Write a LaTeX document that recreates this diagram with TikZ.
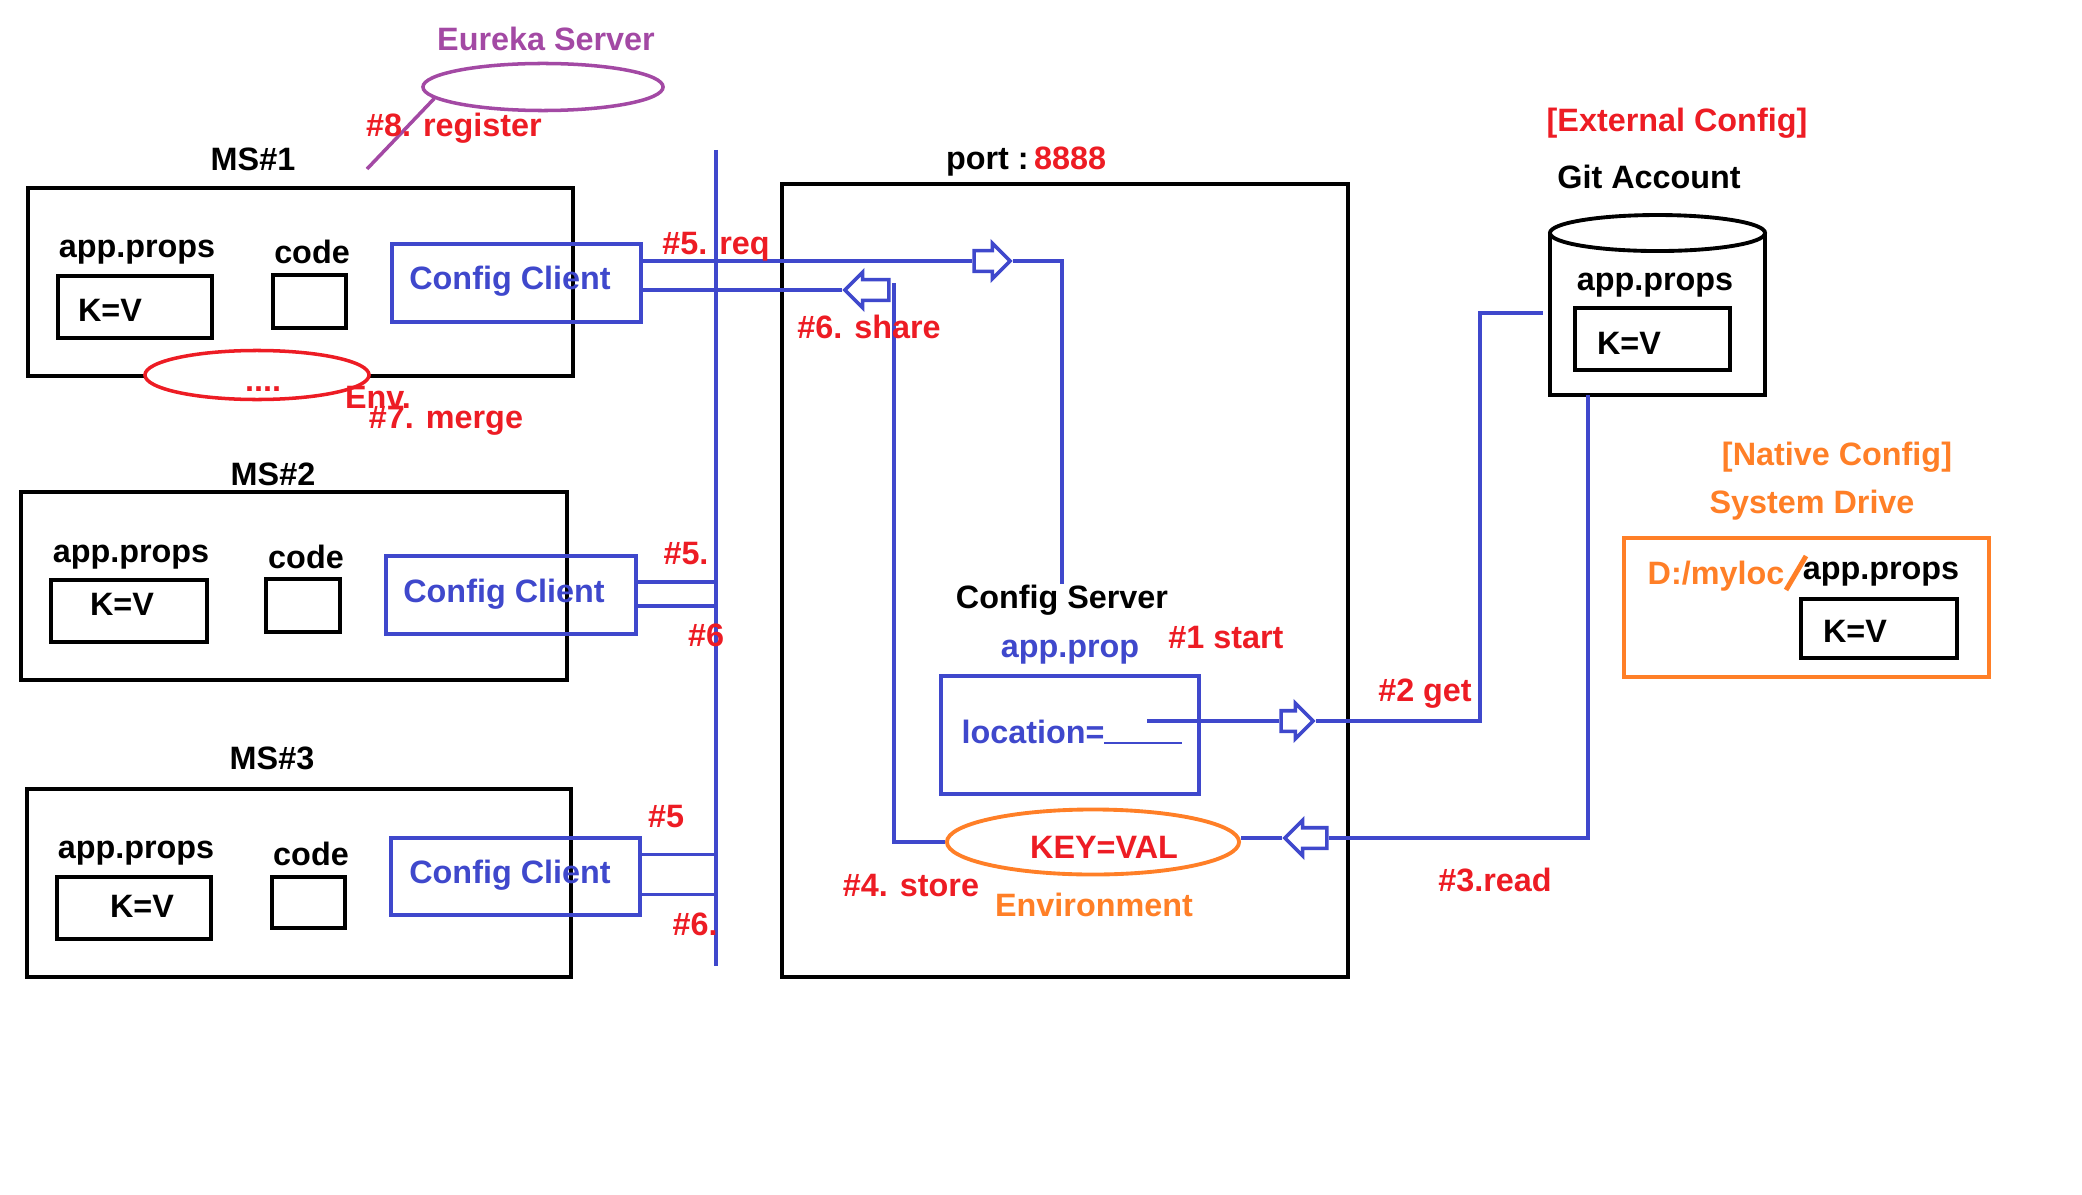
\documentclass[tikz,border=0pt]{standalone}
\usepackage{fontspec}
\setmainfont{Liberation Sans}
\usetikzlibrary{arrows.meta,positioning,shapes.geometric,shapes.arrows,calc}

\definecolor{cblue}{HTML}{3F48CC}
\definecolor{cred}{HTML}{ED1C24}
\definecolor{corange}{HTML}{FF7F27}
\definecolor{cpurple}{HTML}{A349A4}
\newcommand{\diagfont}{\fontsize{9.2}{11}\selectfont\bfseries}

\begin{document}
\begin{tikzpicture}[x=0.01cm, y=-0.01cm,
  every node/.style={font=\diagfont, inner sep=0pt},
  box/.style={draw, line width=1.25pt, rectangle},
  clientbox/.style={draw=cblue, line width=1.25pt},
  link/.style={cblue, line width=1.1pt},
  hollow/.style={single arrow, draw=cblue, fill=white, line width=1pt,
    minimum height=0.36cm, inner sep=0.085cm, single arrow head extend=0.075cm},
  rtxt/.style={text=cred},
  btxt/.style={text=cblue},
  otxt/.style={text=corange}]
  \useasboundingbox (0,0) rectangle (2082,1194);

  % eureka server
  \node[text=cpurple] (eurekalbl) at (546,39) {Eureka Server};
  \node[ellipse, draw=cpurple, line width=1pt, minimum width=2.40cm, minimum height=0.47cm] (eureka) at (543,87) {};
  \coordinate (reg) at (367,169);
  \draw[cpurple, line width=1pt] (eureka.186) -- (reg);
  \node[rtxt] (reglbl) at (454,128) {\#8. register};

  % MS#1
  \node (ms1lbl) at (253,159) {MS\#1};
  \node[box, minimum width=5.45cm, minimum height=1.88cm] (ms1) at (300.5,282) {};
  \node (props1) at (137,252) {app.props};
  \node[box, minimum width=1.54cm, minimum height=0.62cm] (kv1) at (135,307) {};
  \node (kvtxt1) at (110,310) {K=V};
  \node (code1lbl) at (312,252) {code};
  \node[box, minimum width=0.73cm, minimum height=0.53cm] (code1) at (309.5,301.5) {};
  \node[clientbox, minimum width=2.49cm, minimum height=0.78cm] (client1) at (516.5,283) {};
  \node[btxt] (cltxt1) at (510,281) {Config Client};
  \node[ellipse, draw=cred, fill=white, line width=1pt, minimum width=2.24cm, minimum height=0.49cm] (env1) at (257,375) {};
  \node[rtxt] (dots1) at (263,389) {....};
  \node[rtxt] (envlbl) at (378,397) {Env.};
  \node[rtxt] (mergelbl) at (446,421) {\#7. merge};

  % MS#2
  \node (ms2lbl) at (273,474) {MS\#2};
  \node[box, minimum width=5.46cm, minimum height=1.88cm] (ms2) at (294,586) {};
  \node (props2) at (131,557) {app.props};
  \node[box, minimum width=1.56cm, minimum height=0.62cm] (kv2) at (129,611) {};
  \node (kvtxt2) at (122,604) {K=V};
  \node (code2lbl) at (306,557) {code};
  \node[box, minimum width=0.74cm, minimum height=0.53cm] (code2) at (303,605.5) {};
  \node[clientbox, minimum width=2.50cm, minimum height=0.78cm] (client2) at (511,595) {};
  \node[btxt] (cltxt2) at (504,594) {Config Client};

  % MS#3
  \node (ms3lbl) at (272,758) {MS\#3};
  \node[box, minimum width=5.44cm, minimum height=1.88cm] (ms3) at (299,883) {};
  \node (props3) at (136,853) {app.props};
  \node[box, minimum width=1.54cm, minimum height=0.62cm] (kv3) at (134,908) {};
  \node (kvtxt3) at (142,906) {K=V};
  \node (code3lbl) at (311,853.5) {code};
  \node[box, minimum width=0.73cm, minimum height=0.51cm] (code3) at (308.5,902.5) {};
  \node[clientbox, minimum width=2.49cm, minimum height=0.77cm] (client3) at (515.5,876.5) {};
  \node[btxt] (cltxt3) at (510,875) {Config Client};

  % bus
  \coordinate (bustop) at (716,150);
  \coordinate (busbot) at (716,966);
  \draw[link] (bustop) -- (busbot);

  % config server
  \node[box, minimum width=5.66cm, minimum height=7.93cm] (server) at (1065,580.5) {};
  \node (portlbl) at (1026,162) {port :\,\textcolor{cred}{8888}};
  \node (srvlbl) at (1062,600) {Config Server};
  \node[rtxt] (startlbl) at (1226,638) {\#1 start};
  \node[btxt] (proplbl) at (1070,652) {app.prop};
  \node[draw=cblue, line width=1.25pt, minimum width=2.58cm, minimum height=1.18cm] (loc) at (1070,735) {};
  \node[btxt] (loctxt) at (1072,732) {location=\rule{0.78cm}{0.5pt}};
  \node[ellipse, draw=corange, line width=1.1pt, minimum width=2.92cm, minimum height=0.65cm] (keyval) at (1093,842) {};
  \node[rtxt] (kvtxt) at (1104,847) {KEY=VAL};
  \node[otxt] (envname) at (1094,905) {Environment};
  \node[rtxt] (storelbl) at (911,886) {\#4. store};

  % git account
  \node[rtxt] (extlbl) at (1677,123) {[External Config]};
  \node (gitlbl) at (1649,177) {Git Account};
  \node[box, line width=1.1pt, minimum width=2.15cm, minimum height=1.60cm] (git) at (1657.5,315) {};
  \node[ellipse, draw, fill=white, line width=1.1pt, minimum width=2.15cm, minimum height=0.36cm] (gittop) at (git.north) {};
  \node (gitprops) at (1655,285) {app.props};
  \node[box, minimum width=1.55cm, minimum height=0.62cm] (kvgit) at (1652.5,339) {};
  \node (kvtxtgit) at (1629,343) {K=V};

  % native drive
  \node[otxt] (natlbl) at (1837,457) {[Native Config]};
  \node[otxt] (drivelbl) at (1812,505) {System Drive};
  \node[draw=corange, line width=1.25pt, minimum width=3.65cm, minimum height=1.39cm] (native) at (1806.5,607.5) {};
  \node[otxt] (myloc) at (1716,576) {D:/myloc};
  \coordinate (slashtop) at (1806,556);
  \coordinate (slashbot) at (1786,590);
  \draw[corange, line width=1.4pt] (slashtop) -- (slashbot);
  \node (natprops) at (1881,574) {app.props};
  \node[box, minimum width=1.56cm, minimum height=0.59cm] (kvnat) at (1879,628.5) {};
  \node (kvtxtnat) at (1855,631) {K=V};

  % hollow arrows
  \node[hollow] (reqarr) at (987,261) {};
  \node[hollow, minimum height=0.44cm, shape border rotate=180] (sharearr) at (872,290) {};
  \node[hollow, minimum height=0.32cm] (getarr) at (1292,721) {};
  \node[hollow, minimum height=0.42cm, shape border rotate=180] (readarr) at (1311,838) {};

  % #5 req / #6 share
  \draw[link] (client1.east |- reqarr) -- (reqarr.tail);
  \draw[link] (reqarr.tip) -| (srvlbl.north);
  \draw[link] (sharearr.tip) -- (client1.east |- sharearr);
  \coordinate (sharetop) at (894,283);
  \draw[link] (sharetop) |- (keyval.west);
  \node[rtxt] (reqlbl) at (716,247) {\#5. req};
  \node[rtxt] (sharelbl) at (869,327) {\#6. share};

  \draw[link] ($(client2.east)+(0,-13)$) coordinate (c2a) -- (c2a -| bustop);
  \draw[link] ($(client2.east)+(0,11)$) coordinate (c2b) -- (c2b -| bustop);
  \node[rtxt] (req2lbl) at (686,554) {\#5.};
  \node[rtxt] (share2lbl) at (706,635) {\#6};

  \draw[link] ($(client3.east)+(0,-22)$) coordinate (c3a) -- (c3a -| bustop);
  \draw[link] ($(client3.east)+(0,18)$) coordinate (c3b) -- (c3b -| bustop);
  \node[rtxt] (req3lbl) at (666,817) {\#5};
  \node[rtxt] (share3lbl) at (695,924) {\#6.};

  % #2 get / #3 read
  \coordinate (locstart) at (1147,721);
  \coordinate (gitbend) at (1480,313);
  \coordinate (gitend) at (1543,313);
  \draw[link] (locstart) -- (getarr.tail);
  \draw[link] (getarr.tip) -| (gitbend) -- (gitend);
  \node[rtxt] (getlbl) at (1425,694) {\#2 get};

  \coordinate (gitdrop) at (1588,395);
  \draw[link] (gitdrop) |- (readarr.tail);
  \draw[link] (readarr.tip) -- (readarr.tip -| keyval.east);
  \node[rtxt] (readlbl) at (1495,880) {\#3.read};
\end{tikzpicture}
\end{document}
